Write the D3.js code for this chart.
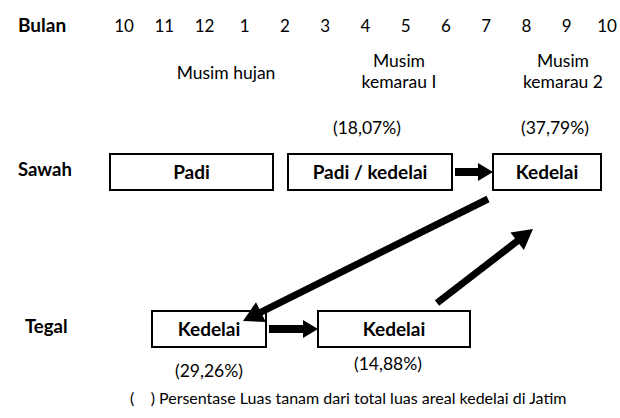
<!DOCTYPE html>
<html>
<head>
<meta charset="utf-8">
<script src="https://d3js.org/d3.v7.min.js"></script>
<style>
  body { margin: 0; background: #fff; }
  text { font-family: Lato, "Open Sans", sans-serif; fill: #000; }
</style>
</head>
<body>
<script>
var width = 620;
var height = 418;

// data
var months = ["10", "11", "12", "1", "2", "3", "4", "5", "6", "7", "8", "9", "10"];
var seasons = [["Musim hujan"], ["Musim", "kemarau I"], ["Musim", "kemarau 2"]];
var rows = ["Sawah", "Tegal"];
var crops = ["Padi", "Padi / kedelai", "Kedelai", "Kedelai", "Kedelai"];
var cropRow = ["Sawah", "Sawah", "Sawah", "Tegal", "Tegal"];
var shares = ["", "(18,07%)", "(37,79%)", "(29,26%)", "(14,88%)"];
var flows = [[1, 2], [2, 3], [3, 4], [4, 2]];
var note = "(    ) Persentase Luas tanam dari total luas areal kedelai di Jatim";

var svg = d3.select("body").append("svg")
            .attr("width", width)
            .attr("height", height);

var x = d3.scalePoint()
          .domain(d3.range(months.length))
          .range([124, 607]);

var y = d3.scalePoint()
          .domain(rows)
          .range([172, 329]);

// layout of boxes (left, right edges) in pixels
var boxX = [[110, 273], [288, 452], [493, 601], [152, 266], [318, 470]];
var boxH = 36;
var seasonX = [226, 399, 563];

svg.append("text")
   .attr("x", 18).attr("y", 32)
   .attr("font-weight", "bold").attr("font-size", 19)
   .text("Bulan");

svg.selectAll(".month")
   .data(months)
   .enter().append("text")
   .attr("class", "month")
   .attr("x", function(d, i) { return x(i); })
   .attr("y", 32)
   .attr("text-anchor", "middle")
   .attr("font-size", 17)
   .text(function(d) { return d; });

var sg = svg.selectAll(".season")
   .data(seasons)
   .enter().append("text")
   .attr("class", "season")
   .attr("text-anchor", "middle")
   .attr("font-size", 17.5)
   .attr("x", function(d, i) { return seasonX[i]; })
   .attr("y", function(d) { return d.length == 1 ? 79 : 67; });
sg.selectAll("tspan")
  .data(function(d, i) { return d.map(function(t) { return [t, seasonX[i]]; }); })
  .enter().append("tspan")
  .attr("x", function(d) { return d[1]; })
  .attr("dy", function(d, i) { return i == 0 ? 0 : 21; })
  .text(function(d) { return d[0]; });

svg.selectAll(".row")
   .data(rows)
   .enter().append("text")
   .attr("class", "row")
   .attr("x", function(d) { return d == "Sawah" ? 18 : 25; })
   .attr("y", function(d) { return y(d) + 4; })
   .attr("font-weight", "bold").attr("font-size", 18.5)
   .text(function(d) { return d; });

var boxes = svg.selectAll(".box")
   .data(crops)
   .enter().append("g")
   .attr("class", "box");

boxes.append("rect")
   .attr("x", function(d, i) { return boxX[i][0]; })
   .attr("y", function(d, i) { return y(cropRow[i]) - boxH / 2; })
   .attr("width", function(d, i) { return boxX[i][1] - boxX[i][0]; })
   .attr("height", boxH)
   .attr("fill", "#fff")
   .attr("stroke", "#000")
   .attr("stroke-width", 2);

boxes.append("text")
   .attr("x", function(d, i) { return (boxX[i][0] + boxX[i][1]) / 2; })
   .attr("y", function(d, i) { return y(cropRow[i]) + 7; })
   .attr("text-anchor", "middle")
   .attr("font-weight", "bold").attr("font-size", 19)
   .text(function(d) { return d; });

boxes.append("text")
   .attr("x", function(d, i) { return i == 1 ? 367 : i == 2 ? 555 : (boxX[i][0] + boxX[i][1]) / 2 - (i == 4 ? 6 : 0); })
   .attr("y", function(d, i) { return cropRow[i] == "Sawah" ? 134 : (i == 3 ? 377 : 370); })
   .attr("text-anchor", "middle")
   .attr("font-size", 17.5)
   .text(function(d, i) { return shares[i]; });

// arrows
function arrowPts(i, j) {
  var a = boxX[i], b = boxX[j];
  if (cropRow[i] == cropRow[j]) {
    var yy = y(cropRow[i]);
    return { x1: a[1] + 3, y1: yy, x2: b[0], y2: yy, block: true };
  }
  if (cropRow[i] == "Sawah") return { x1: 488, y1: 199, x2: 243, y2: 321 };
  return { x1: 437, y1: 303, x2: 533, y2: 229 };
}

flows.forEach(function(f) {
  var p = arrowPts(f[0], f[1]);
  var dx = p.x2 - p.x1, dy = p.y2 - p.y1, len = Math.sqrt(dx * dx + dy * dy);
  var ux = dx / len, uy = dy / len, nx = -uy, ny = ux;
  var hl = p.block ? 15 : 20, hw = p.block ? 9 : 11, sw = p.block ? 8 : 7;
  var bx = p.x2 - ux * hl, by = p.y2 - uy * hl;
  svg.append("line")
     .attr("x1", p.x1).attr("y1", p.y1)
     .attr("x2", bx + ux * 1).attr("y2", by + uy * 1)
     .attr("stroke", "#000").attr("stroke-width", sw);
  svg.append("path")
     .attr("d", d3.line()([[p.x2, p.y2], [bx + nx * hw, by + ny * hw], [bx - nx * hw, by - ny * hw]]) + "Z")
     .attr("fill", "#000");
});

svg.append("text")
   .attr("x", 130).attr("y", 404)
   .attr("font-size", 16)
   .attr("xml:space", "preserve")
   .style("white-space", "pre")
   .text(note);
</script>
</body>
</html>
